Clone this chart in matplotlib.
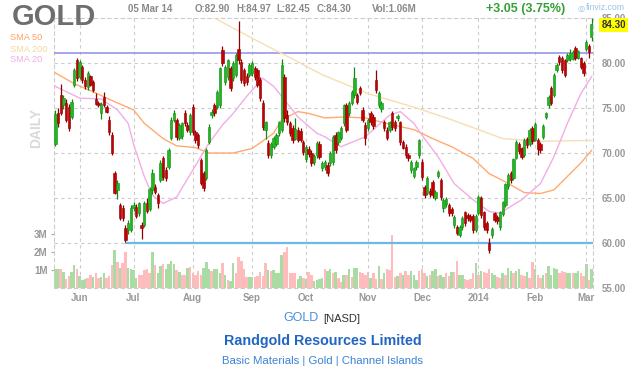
import matplotlib
matplotlib.use("Agg")
import matplotlib.pyplot as plt

plt.rcParams['font.family'] = ['Liberation Sans', 'DejaVu Sans']

# ---------------- data ----------------
opens = [71.0,74.5,76.5,75.3,75.5,75.1,74.0,77.6,80.3,78.4,
         79.6,78.1,77.3,78.5,77.9,76.0,75.6,74.4,76.2,75.1,
         73.7,72.0,67.8,65.9,64.2,63.9,61.7,61.4,61.4,63.9,
         64.0,63.3,62.0,62.0,64.5,63.8,65.9,66.2,65.3,67.0,
         69.4,68.1,68.4,71.7,73.7,73.7,71.7,71.9,74.4,73.1,
         72.3,75.1,72.3,72.0,69.2,67.8,67.2,71.2,74.2,75.3,
         75.1,75.3,81.4,77.9,78.4,79.4,78.3,78.7,81.6,80.1,
         79.2,78.6,78.7,78.9,79.4,79.2,78.1,75.6,72.6,71.1,
         69.8,70.7,71.0,72.2,72.6,78.4,74.2,73.3,72.8,71.6,
         72.6,72.5,71.2,69.3,70.5,70.0,69.0,69.8,71.0,68.3,
         68.4,68.7,68.9,69.0,72.0,71.2,71.7,73.3,75.3,74.4,
         75.6,76.4,76.4,77.2,74.8,73.1,72.8,74.4,74.0,78.1,
         75.3,74.9,73.4,72.6,72.6,74.4,73.4,73.9,73.4,71.2,
         70.7,69.8,68.1,67.5,68.4,69.8,69.0,66.2,65.6,65.8,
         66.8,65.0,67.4,67.0,63.9,64.3,64.2,63.8,62.0,61.8,
         60.9,61.8,63.4,63.1,63.0,63.0,61.4,63.3,65.0,63.4,
         62.2,60.0,60.9,63.3,62.9,61.8,63.2,64.2,66.3,67.8,
         67.2,69.5,71.0,70.5,69.8,71.6,71.0,72.8,71.5,71.5,
         71.0,71.8,74.0,75.3,77.2,76.4,79.2,80.7,80.6,80.3,
         80.3,80.4,80.5,81.7,80.6,80.5,80.0,81.6,81.9,82.9]
highs = [74.8,75.0,77.7,76.4,76.0,75.4,76.0,79.4,80.6,80.3,
         79.8,78.4,79.1,78.7,78.1,76.7,75.8,75.7,76.8,75.3,
         74.1,72.3,68.0,67.0,64.4,64.2,62.0,62.6,64.2,64.6,
         64.3,64.6,62.3,64.7,65.0,66.2,68.2,66.6,65.6,69.2,
         69.7,68.4,70.6,74.0,74.8,73.9,73.3,73.5,74.8,73.4,
         74.5,75.5,72.6,72.2,69.5,68.0,70.6,73.2,74.9,75.6,
         77.0,79.6,81.9,79.8,80.5,79.7,80.2,81.1,84.7,80.4,
         79.5,78.9,80.0,80.2,79.7,79.5,78.4,75.9,73.6,71.4,
         71.2,71.9,72.2,73.6,80.4,78.8,74.8,73.6,73.1,73.9,
         72.9,72.8,71.5,70.9,70.8,70.3,69.9,71.3,71.3,69.1,
         69.2,69.0,70.2,72.0,72.3,72.5,73.0,75.5,75.6,75.8,
         77.0,79.6,76.7,77.5,75.1,73.4,73.9,74.7,74.3,79.2,
         76.9,75.8,73.7,72.9,73.6,74.7,73.7,74.3,73.6,71.5,
         71.0,70.0,69.2,68.5,69.2,71.6,69.3,66.5,67.4,66.1,
         67.0,65.9,68.1,67.2,65.0,65.1,64.4,64.0,63.1,62.0,
         62.0,63.0,63.6,63.3,63.2,63.2,63.2,65.3,65.2,63.6,
         62.4,60.6,61.8,63.5,63.1,63.6,64.7,66.7,67.8,68.0,
         69.5,71.4,71.2,70.7,71.7,71.8,72.8,73.0,73.4,71.7,
         71.2,73.2,74.6,76.4,77.4,78.9,80.0,80.9,80.8,80.5,
         81.1,81.6,81.4,81.9,81.5,80.7,80.2,82.6,82.1,84.97]
lows = [70.8,72.9,74.2,74.9,73.4,72.5,73.8,77.3,78.0,78.2,
        77.8,77.1,77.0,77.4,76.8,75.3,75.1,73.8,75.1,74.4,
        72.0,69.8,65.4,64.9,62.6,62.5,60.1,61.0,61.2,63.6,
        62.8,63.0,60.4,61.8,63.3,63.6,65.5,65.4,63.9,66.8,
        67.0,66.9,68.2,71.5,73.4,71.5,71.4,71.6,73.0,72.3,
        72.0,72.0,71.1,70.6,66.4,65.8,67.0,71.0,73.9,74.1,
        74.9,75.0,79.7,77.6,78.1,76.9,78.0,78.4,79.9,77.8,
        77.5,77.6,78.4,78.6,78.1,77.3,75.8,72.6,71.6,69.5,
        69.5,70.4,70.8,71.9,72.3,73.5,73.1,71.9,71.1,71.4,
        71.2,71.2,69.8,69.0,69.6,68.6,68.7,69.5,69.3,68.0,
        68.1,67.5,68.6,68.7,70.0,70.9,71.4,73.0,72.3,74.1,
        75.3,76.1,75.4,76.4,73.4,70.9,72.5,73.1,72.7,76.7,
        75.0,74.6,72.5,71.4,72.3,72.6,72.5,73.6,70.9,70.4,
        69.5,69.1,67.8,67.2,68.1,69.5,67.0,65.0,65.3,65.1,
        65.0,64.8,67.2,64.8,63.5,64.0,63.0,63.0,61.7,60.9,
        60.7,61.5,61.9,62.5,62.3,61.1,61.2,63.1,62.8,61.5,
        61.1,58.9,60.6,62.3,62.1,61.5,63.0,64.0,66.0,66.7,
        67.0,69.3,69.9,69.3,69.6,70.6,70.8,71.0,71.3,69.8,
        70.0,71.6,73.8,75.0,75.3,76.2,79.0,79.8,78.9,78.4,
        80.1,80.2,80.3,80.3,80.4,79.3,78.6,81.3,80.6,82.45]
closes = [74.3,73.3,74.4,76.1,73.7,72.8,75.7,79.2,78.3,80.1,
          78.1,77.4,78.9,77.6,77.0,75.5,75.3,75.5,75.3,74.6,
          72.3,70.0,65.6,66.7,62.8,62.8,60.3,62.2,63.9,64.2,
          63.0,64.4,61.7,64.5,63.6,66.0,67.8,65.7,64.4,68.9,
          67.3,67.2,70.3,73.7,74.4,71.8,73.1,73.3,73.3,72.6,
          74.2,72.3,71.4,70.9,66.7,66.1,70.3,72.9,74.6,74.4,
          76.8,79.4,80.0,79.6,80.3,77.2,80.0,80.9,80.3,78.1,
          77.8,77.9,79.8,80.0,78.4,77.6,76.1,72.9,73.4,69.8,
          71.0,71.7,72.0,73.4,79.8,73.9,73.4,72.2,71.4,72.7,
          71.5,71.5,70.1,70.7,69.9,68.9,69.7,71.1,69.6,68.9,
          69.0,67.8,70.0,71.8,70.3,72.3,72.8,75.3,72.6,75.6,
          76.8,78.3,75.7,76.7,73.7,71.7,73.7,73.4,73.0,77.0,
          76.7,75.6,72.8,71.7,73.4,72.9,72.8,74.1,71.2,70.6,
          69.8,69.4,69.0,68.3,69.0,71.4,67.3,65.3,67.2,65.4,
          65.3,65.7,67.9,65.1,64.8,64.9,63.3,63.3,62.9,61.1,
          61.8,62.8,62.2,62.8,62.6,61.4,63.0,65.1,63.1,61.8,
          61.4,59.2,61.6,62.6,62.4,63.4,64.5,66.5,67.6,67.0,
          69.3,71.2,70.2,69.6,71.5,70.9,72.6,71.3,73.2,70.5,
          70.3,73.0,74.4,76.2,75.6,78.7,79.8,80.1,79.2,78.7,
          80.9,81.1,81.2,80.6,81.3,79.6,78.9,82.3,81.25,84.3]
volume_m = [1.08,1.08,1.08,0.89,0.51,0.66,0.89,1.26,1.08,0.66,
            0.47,0.51,0.57,0.75,0.62,0.81,0.57,0.62,0.85,0.57,
            0.66,1.26,2.13,1.42,1.13,1.38,1.98,1.13,1.04,1.00,
            0.57,0.75,0.70,1.00,1.04,0.81,1.98,1.26,0.85,1.23,
            1.32,1.04,1.32,1.51,1.32,1.00,0.87,0.75,0.75,1.13,
            1.17,0.85,0.75,0.94,0.75,1.13,1.42,1.04,0.94,1.04,
            1.08,0.85,1.38,0.70,0.47,0.38,1.38,0.85,1.75,1.51,
            1.04,0.62,0.62,0.62,0.62,0.66,0.89,0.66,1.38,1.00,
            0.94,1.00,0.85,0.81,1.83,1.98,2.26,0.81,0.81,0.81,
            0.51,0.66,0.57,0.51,0.89,0.70,0.38,0.47,0.51,0.57,
            1.04,0.94,1.08,0.85,0.89,0.57,0.32,0.75,0.70,1.08,
            0.62,1.13,1.13,0.89,0.85,0.75,0.89,0.57,0.85,0.51,
            1.23,0.51,0.85,1.04,1.00,2.96,0.62,0.66,0.81,0.75,
            0.94,0.75,0.94,0.75,0.47,0.94,1.04,0.81,0.66,0.72,
            0.94,1.04,0.66,0.75,0.62,0.81,0.66,0.89,0.89,1.51,
            0.75,0.70,0.51,0.47,0.51,0.85,1.38,0.75,0.94,0.89,
            0.85,1.08,0.85,0.70,0.62,0.57,0.85,0.70,1.13,0.94,
            0.85,0.94,1.08,0.75,0.66,0.89,0.57,1.45,1.04,0.75,
            0.57,0.75,0.85,1.23,0.75,1.13,1.08,0.85,0.94,0.89,
            0.85,0.85,0.81,0.81,0.94,0.85,0.66,1.32,0.47,1.06]
volume_up = ("ggrgrrggrg" "ggrrgrrggr" "rrgrgrrggg" "grrrrrgrgg" "rggggrgrrg"
             "rrrrrgggrg" "ggrgrggrrr" "rrggrrrrrg" "rggggrrrrr" "ggrgrrgggg"
             "rggrgrrgrg" "rggrrrrgrr" "grgrrrrgrg" "rrgggrrrgr" "ggrggrrgrr"
             "ggrrrrgrgr" "rrggrrgrgg" "rggrrgrrgr" "rgrggggrrr" "ggrggrrgrg")

sma20_idx = [0, 9, 17, 23, 27, 29, 33, 36, 40, 45, 51, 57, 62, 66, 71, 77, 81, 84, 90, 97,
             100, 106, 115, 124, 128, 133, 136, 142, 148, 155, 161, 165, 167, 173, 180, 185, 190, 195, 199]
sma20_val = [77.4, 76.1, 76.0, 74.8, 73.3, 71.0, 67.4, 65.3, 64.4, 65.1, 68.1, 71.1, 73.1, 74.4, 76.3, 78.3, 77.4, 76.3, 74.0, 72.2,
             71.8, 70.7, 71.8, 74.2, 74.6, 73.3, 72.0, 69.6, 66.6, 64.8, 63.5, 63.3, 63.7, 64.8, 66.6, 69.6, 73.3, 76.6, 78.5]
sma50_idx = [0, 7, 14, 22, 29, 33, 40, 45, 52, 57, 66, 73, 81, 84, 90, 94, 100, 107, 115, 124,
             133, 140, 147, 155, 161, 167, 174, 180, 185, 190, 195, 199]
sma50_val = [78.9, 77.7, 76.8, 75.7, 74.8, 73.3, 71.6, 70.8, 70.6, 70.0, 70.0, 70.5, 72.2, 73.7, 74.6, 74.4, 73.9, 74.0, 73.9, 73.2,
             72.6, 71.6, 70.7, 69.4, 67.7, 66.8, 65.6, 65.5, 65.9, 67.4, 68.9, 70.3]
sma200_idx = [55, 59, 74, 87, 99, 116, 133, 147, 166, 180, 199]
sma200_val = [85.6, 85.0, 82.6, 80.6, 78.7, 76.6, 75.1, 73.7, 71.6, 71.3, 71.4]

month_pos = [9, 29, 51, 73, 93, 116, 136, 157, 178, 197]
month_labels = ['Jun', 'Jul', 'Aug', 'Sep', 'Oct', 'Nov', 'Dec', '2014', 'Feb', 'Mar']
price_ticks = [55, 60, 65, 70, 75, 80, 85]
vol_ticks = [1, 2, 3]
resistance_level = 81.1
support_level = 60.0
support_start = 25.7
last_close = 84.30

# ---------------- figure ----------------
W, H = 640, 372
fig = plt.figure(figsize=(6.4, 3.72), dpi=100)
fig.patch.set_facecolor('white')

def fx(px):
    return px / W

def fy(py):
    return 1 - py / H

L_PX, R_PX, T_PX, B_PX = 54, 593, 18, 288
axv = fig.add_axes([fx(L_PX), fy(B_PX), (R_PX - L_PX) / W, (B_PX - T_PX) / H])
ax = axv.twinx()

n = len(closes)
idx = list(range(n))

# volume
vcols = ['#a9dca3' if c == 'g' else '#ffbcbc' for c in volume_up]
axv.bar(idx, volume_m, width=0.92, color=vcols, linewidth=0, zorder=2)
axv.set_ylim(0, 15)
axv.set_xlim(-0.5, n - 0.5)
axv.set_yticks(vol_ticks)
axv.set_yticklabels([f'{v}M' for v in vol_ticks])
axv.tick_params(axis='y', colors='#aaaaaa', labelcolor='#999999', labelsize=7,
                length=2.5, width=0.8, pad=2)
for t in axv.get_yticklabels():
    t.set_fontweight('bold')
axv.set_xticks(month_pos)
axv.set_xticklabels(month_labels)
axv.tick_params(axis='x', length=0, pad=3.5, labelsize=7, labelcolor='#999999')
for t in axv.get_xticklabels():
    t.set_fontweight('bold')
for s in axv.spines.values():
    s.set_linestyle((0, (3, 3)))
    s.set_color('#cccccc')
    s.set_linewidth(0.8)

# price axis
ax.set_ylim(55, 85)
ax.set_xlim(-0.5, n - 0.5)
ax.set_yticks(price_ticks)
ax.set_yticklabels([f'{p:.2f}' for p in price_ticks])
ax.tick_params(axis='y', length=0, pad=6.5, labelsize=7, labelcolor='#999999')
for t in ax.get_yticklabels():
    t.set_fontweight('bold')
for s in ax.spines.values():
    s.set_visible(False)

# grid
for p in price_ticks[1:-1]:
    ax.axhline(p, color='#cccccc', lw=0.8, ls=(0, (3, 3)), zorder=1)
for m in month_pos:
    ax.axvline(m, color='#cccccc', lw=0.8, ls=(0, (3, 3)), zorder=1)

# level lines
ax.hlines(resistance_level, -0.5, n - 0.5, color='#8e8ee8', lw=1.1, zorder=2)
ax.hlines(support_level, support_start, n - 0.5, color='#6cb8e6', lw=1.6, zorder=2)

# moving averages
ax.plot(sma200_idx, sma200_val, color='#f6dfb2', lw=1.0, zorder=3)
ax.plot(sma50_idx, sma50_val, color='#ffab70', lw=1.0, zorder=3)
ax.plot(sma20_idx, sma20_val, color='#f2aee4', lw=1.0, zorder=3)

# candles
up = [c >= o for o, c in zip(opens, closes)]
wick_c = ['#128a12' if u else '#8c0000' for u in up]
face_c = ['#20b820' if u else '#c40000' for u in up]
ax.vlines(idx, lows, highs, colors=wick_c, lw=0.9, zorder=4)
bottoms = [min(o, c) for o, c in zip(opens, closes)]
heights = [max(abs(c - o), 0.12) for o, c in zip(opens, closes)]
ax.bar(idx, heights, bottom=bottoms, width=0.88, color=face_c, edgecolor=wick_c,
       linewidth=0.4, zorder=5)

# ---------------- texts ----------------
fig.text(fx(12), fy(17), 'GOLD', fontsize=21, fontweight='bold', color='#6e6e6e',
         ha='left', va='center')
fig.text(fx(10), fy(38), 'SMA 50', fontsize=6.7, color='#ffa36a', ha='left', va='center')
fig.text(fx(10), fy(49), 'SMA 200', fontsize=6.7, color='#f3d7a6', ha='left', va='center')
fig.text(fx(10), fy(60), 'SMA 20', fontsize=6.7, color='#f2aee4', ha='left', va='center')
fig.text(fx(36), fy(128), 'DAILY', fontsize=10, fontweight='bold', color='#dadada',
         rotation=90, ha='center', va='center')

hdr = dict(fontsize=7, fontweight='bold', color='#888888', ha='left', va='center')
fig.text(fx(128), fy(9), '05 Mar 14', **hdr)
fig.text(fx(195), fy(9), 'O:82.90', **hdr)
fig.text(fx(236), fy(9), 'H:84.97', **hdr)
fig.text(fx(276), fy(9), 'L:82.45', **hdr)
fig.text(fx(317), fy(9), 'C:84.30', **hdr)
fig.text(fx(372), fy(9), 'Vol:1.06M', **hdr)
fig.text(fx(486), fy(9), '+3.05 (3.75%)', fontsize=9, fontweight='bold', color='#35a035',
         ha='left', va='center')
fig.text(fx(577), fy(8), '\u25ce', fontsize=6, color='#9cc3e6', ha='left', va='center',
         family=['DejaVu Sans'])
fig.text(fx(586), fy(8), 'finviz.com', fontsize=6.3, color='#9cc3e6', ha='left', va='center')

fig.text(fx(613.5), fy(25), f'{last_close:.2f}', fontsize=7, fontweight='bold', color='#333333',
         ha='center', va='center',
         bbox=dict(boxstyle='square,pad=0.2', fc='#ffff00', ec='none'))

fig.text(fx(283), fy(318), 'GOLD', fontsize=9, color='#4a8fdb', ha='left', va='center')
fig.text(fx(323), fy(319), '[NASD]', fontsize=8, color='#333333', ha='left', va='center')
fig.text(fx(323), fy(341), 'Randgold Resources Limited', fontsize=10.3, fontweight='bold',
         color='#2166c4', ha='center', va='center')
fig.text(fx(322), fy(361), 'Basic Materials | Gold | Channel Islands', fontsize=8.2,
         color='#3b82d4', ha='center', va='center')

fig.savefig('out.png', dpi=100, facecolor='white')
